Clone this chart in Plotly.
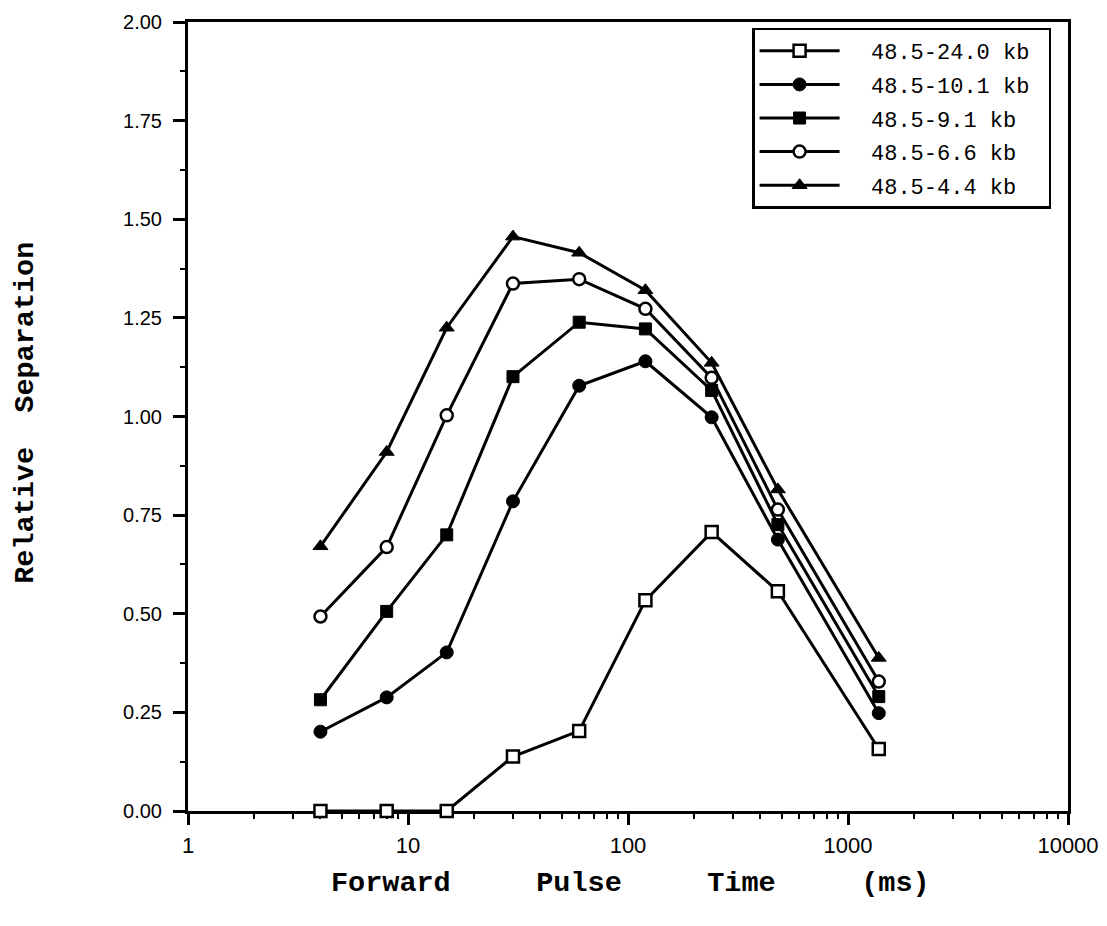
import plotly.graph_objects as go

# Forward pulse time (ms)
pulse_ms = [4, 8, 15, 30, 60, 120, 240, 480, 1380]

series_names = ["48.5-24.0 kb", "48.5-10.1 kb", "48.5-9.1 kb", "48.5-6.6 kb", "48.5-4.4 kb"]
sep_24_0 = [0.0, 0.0, 0.0, 0.138, 0.203, 0.534, 0.707, 0.557, 0.157]
sep_10_1 = [0.201, 0.288, 0.402, 0.785, 1.078, 1.140, 0.998, 0.688, 0.248]
sep_9_1 = [0.282, 0.506, 0.700, 1.101, 1.239, 1.222, 1.066, 0.726, 0.290]
sep_6_6 = [0.493, 0.669, 1.003, 1.337, 1.348, 1.273, 1.098, 0.764, 0.328]
sep_4_4 = [0.671, 0.910, 1.225, 1.456, 1.415, 1.320, 1.136, 0.815, 0.388]

y_ticks = [0, 0.25, 0.5, 0.75, 1.0, 1.25, 1.5, 1.75, 2.0]
x_ticks = [1, 10, 100, 1000, 10000]

series = [sep_24_0, sep_10_1, sep_9_1, sep_6_6, sep_4_4]
styles = [
    dict(symbol="square", size=12, color="white", line=dict(color="black", width=2.5)),
    dict(symbol="circle", size=13, color="black", line=dict(color="black", width=1)),
    dict(symbol="square", size=12, color="black", line=dict(color="black", width=1)),
    dict(symbol="circle", size=12, color="white", line=dict(color="black", width=2.5)),
    dict(symbol="triangle-up", size=13, color="black", line=dict(color="black", width=1)),
]

fig = go.Figure()
for i, (name, ys, mk) in enumerate(zip(series_names, series, styles)):
    fig.add_trace(go.Scatter(
        x=pulse_ms, y=ys, name="\u00a0\u00a0" + name + "\u00a0", mode="lines+markers",
        line=dict(color="black", width=3),
        marker=mk, cliponaxis=False, legendgroup=f"g{i}",
    ))

mono = "Liberation Mono, Courier New, monospace"
sans = "Liberation Sans, Arial, Helvetica, sans-serif"
gap = "\u00a0" * 5

fig.update_layout(
    width=1107, height=926,
    margin=dict(l=188, r=39, t=22, b=115, autoexpand=False),
    paper_bgcolor="white", plot_bgcolor="white",
    showlegend=True,
    legend=dict(
        x=0.641, y=0.993, xanchor="left", yanchor="top",
        bgcolor="white", bordercolor="black", borderwidth=2.5,
        font=dict(family=mono, size=22, color="black"),
        itemwidth=80, tracegroupgap=2,
    ),
    xaxis=dict(
        type="log", range=[0, 4], automargin=False,
        tickvals=x_ticks, ticktext=[str(v) for v in x_ticks],
        ticks="outside", ticklen=11, tickwidth=2.5, tickcolor="black",
        minor=dict(ticks="outside", ticklen=5, tickwidth=2, tickcolor="black", dtick="D1", showgrid=False),
        showline=True, linecolor="black", linewidth=3, mirror=True,
        showgrid=False, zeroline=False, layer="below traces",
        tickfont=dict(family=sans, size=22, color="black"),
        ticklabelstandoff=2,
    ),
    yaxis=dict(
        range=[0, 2], automargin=False, tickvals=y_ticks, tickformat=".2f",
        ticks="outside", ticklen=12, tickwidth=2.5, tickcolor="black",
        minor=dict(ticks="outside", ticklen=5, tickwidth=2, tickcolor="black", dtick=0.125, showgrid=False),
        showline=True, linecolor="black", linewidth=3, mirror=True,
        showgrid=False, zeroline=False, layer="below traces",
        tickfont=dict(family=sans, size=20, color="black"),
        ticklabelstandoff=7,
    ),
    annotations=[
        dict(text="Forward" + gap + "Pulse" + gap + "Time" + gap + "(ms)",
             xref="paper", yref="paper", x=0.503, y=-0.092,
             xanchor="center", yanchor="middle", showarrow=False,
             font=dict(family=mono, size=28.5, color="black", weight="bold")),
        dict(text="Relative\u00a0\u00a0Separation",
             xref="paper", yref="paper", x=-0.185, y=0.505, textangle=-90,
             xanchor="center", yanchor="middle", showarrow=False,
             font=dict(family=mono, size=28.5, color="black", weight="bold")),
    ],
)

fig.write_html("out.html")
